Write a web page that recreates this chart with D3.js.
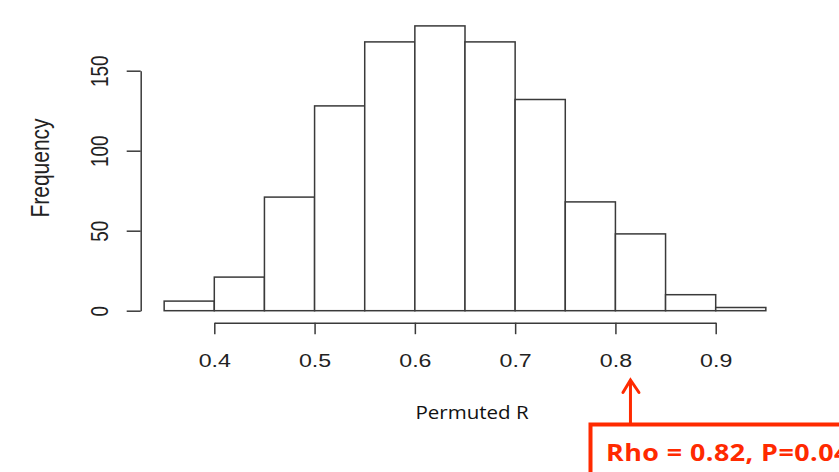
<!DOCTYPE html>
<html>
<head>
<meta charset="utf-8">
<script src="https://cdn.jsdelivr.net/npm/d3@7"></script>
<style>
  html, body { margin: 0; padding: 0; background: #fff; }
  svg { display: block; }
</style>
</head>
<body>
<div id="chart"></div>
<script>
// histogram of permuted R (bins of 0.05)
const binEdges = [0.35, 0.40, 0.45, 0.50, 0.55, 0.60, 0.65, 0.70, 0.75, 0.80, 0.85, 0.90, 0.95];
const counts = [6, 21, 71, 128, 168, 178, 168, 132, 68, 48, 10, 2];
const xTicks = [0.4, 0.5, 0.6, 0.7, 0.8, 0.9];
const yTicks = [0, 50, 100, 150];
const xLabel = "Permuted R";
const yLabel = "Frequency";
const noteText = "Rho = 0.82, P=0.04";
const notePos = 0.815;

const W = 839, H = 472;
const RED = "#ff2a00";
const STRETCH = 1.22; // the original picture is stretched sideways

const bins = counts.map((c, i) => ({ x0: binEdges[i], x1: binEdges[i + 1], n: c }));

const x = d3.scaleLinear().domain([0.4, 0.9]).range([214.3, 715.7]);
const y = d3.scaleLinear().domain([0, 150]).range([310.7, 70.7]);

const svg = d3.select("#chart").append("svg")
    .attr("width", W)
    .attr("height", H);

// --- bars ---
svg.append("g")
    .selectAll("rect")
    .data(bins)
    .join("rect")
    .attr("x", d => x(d.x0))
    .attr("y", d => y(d.n))
    .attr("width", d => x(d.x1) - x(d.x0))
    .attr("height", d => y(0) - y(d.n))
    .attr("fill", "#fff")
    .attr("stroke", "#3a3a3a")
    .attr("stroke-width", 1.5);

// --- axes (R style: line only over the tick range) ---
const xAxis = svg.append("g")
    .attr("transform", `translate(0,322.7)`)
    .call(d3.axisBottom(x).tickValues(xTicks).tickSize(11.5).tickSizeOuter(0).tickFormat(d3.format(".1f")));

const yAxis = svg.append("g")
    .attr("transform", `translate(140.7,0)`)
    .call(d3.axisLeft(y).tickValues(yTicks).tickSize(14).tickSizeOuter(0));

[xAxis, yAxis].forEach(a => {
    a.selectAll("path, line").attr("stroke", "#3a3a3a").attr("stroke-width", 1.5);
    a.selectAll("text").attr("fill", "#222")
        .style("font-family", "'Liberation Sans', Arial, sans-serif")
        .style("font-size", "19px");
});

xAxis.selectAll(".tick text")
    .attr("y", null).attr("dy", null)
    .attr("text-anchor", "middle")
    .attr("transform", `translate(0,44.3) scale(${STRETCH},1)`);

yAxis.selectAll(".tick text")
    .attr("x", null).attr("dy", null)
    .attr("text-anchor", "middle")
    .attr("transform", `translate(-33,0) scale(${STRETCH},1) rotate(-90)`);

// --- axis titles ---
svg.append("text")
    .attr("transform", `translate(48.5,168) scale(${STRETCH},1) rotate(-90)`)
    .attr("text-anchor", "middle")
    .attr("fill", "#222")
    .style("font-family", "'Liberation Sans', Arial, sans-serif")
    .style("font-size", "21px")
    .text(yLabel);

svg.append("text")
    .attr("transform", `translate(472,419) scale(1.08,1)`)
    .attr("text-anchor", "middle")
    .attr("fill", "#111")
    .style("font-family", "'Open Sans', sans-serif")
    .style("font-size", "19px")
    .text(xLabel);

// --- annotation: arrow + red box ---
const ax = x(notePos);
svg.append("line")
    .attr("x1", ax).attr("x2", ax)
    .attr("y1", 423).attr("y2", 380)
    .attr("stroke", RED).attr("stroke-width", 3);

svg.append("path")
    .attr("d", `M${ax - 7.5},392.5 L${ax},380 L${ax + 8.5},392.5`)
    .attr("fill", "none")
    .attr("stroke", RED)
    .attr("stroke-width", 3)
    .attr("stroke-linecap", "round");

svg.append("rect")
    .attr("x", 590.5).attr("y", 424.5)
    .attr("width", 300).attr("height", 100)
    .attr("fill", "#fff")
    .attr("stroke", RED)
    .attr("stroke-width", 4);

// the note runs past the right edge, as in the original slide
svg.append("text")
    .attr("transform", "translate(606,461) scale(1.12,1)")
    .attr("fill", RED)
    .style("font-family", "'Open Sans', sans-serif")
    .style("font-weight", "bold")
    .style("font-size", "24px")
    .style("letter-spacing", "0.4px")
    .text(noteText);
</script>
</body>
</html>
